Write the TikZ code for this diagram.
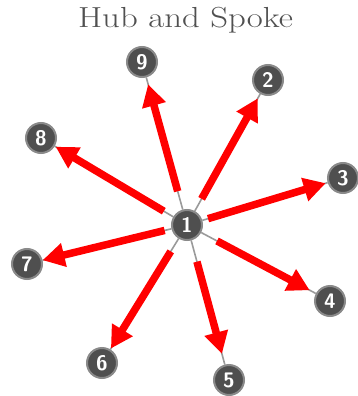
\documentclass[tikz,border=0pt]{standalone}
\usepackage{fontspec}
\usetikzlibrary{arrows.meta,calc}
\newfontfamily\titlefont[FakeStretch=1.2]{Latin Modern Roman}
\definecolor{nodefill}{HTML}{4F4F4F}
\definecolor{noderim}{HTML}{8A8A8A}
\definecolor{spokegray}{HTML}{9A9A9A}
\definecolor{titlegray}{HTML}{505050}
\pgfdeclarelayer{background}
\pgfsetlayers{background,main}
\tikzset{
  hubnode/.style={circle, fill=nodefill, draw=noderim, line width=2pt,
    minimum size=30pt, inner sep=0pt, text=white,
    font=\sffamily\bfseries\fontsize{21}{21}\selectfont},
  spoke/.style={draw=spokegray, line width=1.6pt},
  redarrow/.style={draw=red, line width=7.5pt,
    -{Triangle[length=22pt,width=23pt]}}
}
\begin{document}
\begin{tikzpicture}[x=1pt,y=-1pt]
\useasboundingbox (0,0) rectangle (358,396);
\node[anchor=base, text=titlegray, font=\titlefont\fontsize{29}{29}\selectfont] (title) at (185.5,28) {Hub and Spoke};
\node[hubnode] (n1) at (187,225) {1};
\node[hubnode] (n2) at (268,80) {2};
\node[hubnode] (n3) at (343,178) {3};
\node[hubnode] (n4) at (330,301) {4};
\node[hubnode] (n5) at (229,380) {5};
\node[hubnode] (n6) at (102,363) {6};
\node[hubnode] (n7) at (27,264) {7};
\node[hubnode] (n8) at (41,138) {8};
\node[hubnode] (n9) at (142,62) {9};
\begin{pgfonlayer}{background}
\foreach \k in {2,...,9} {
  \draw[spoke] (n1) -- (n\k);
}
\draw[redarrow, shorten <=30pt, shorten >=21pt] (n1.center) -- (n2.center);
\draw[redarrow, shorten <=22pt, shorten >=18pt] (n1.center) -- (n3.center);
\draw[redarrow, shorten <=34pt, shorten >=23pt] (n1.center) -- (n4.center);
\draw[redarrow, shorten <=38pt, shorten >=27pt] (n1.center) -- (n5.center);
\draw[redarrow, shorten <=31pt, shorten >=17pt] (n1.center) -- (n6.center);
\draw[redarrow, shorten <=23pt, shorten >=16pt] (n1.center) -- (n7.center);
\draw[redarrow, shorten <=27pt, shorten >=17pt] (n1.center) -- (n8.center);
\draw[redarrow, shorten <=35pt, shorten >=23pt] (n1.center) -- (n9.center);
\end{pgfonlayer}
\end{tikzpicture}
\end{document}
